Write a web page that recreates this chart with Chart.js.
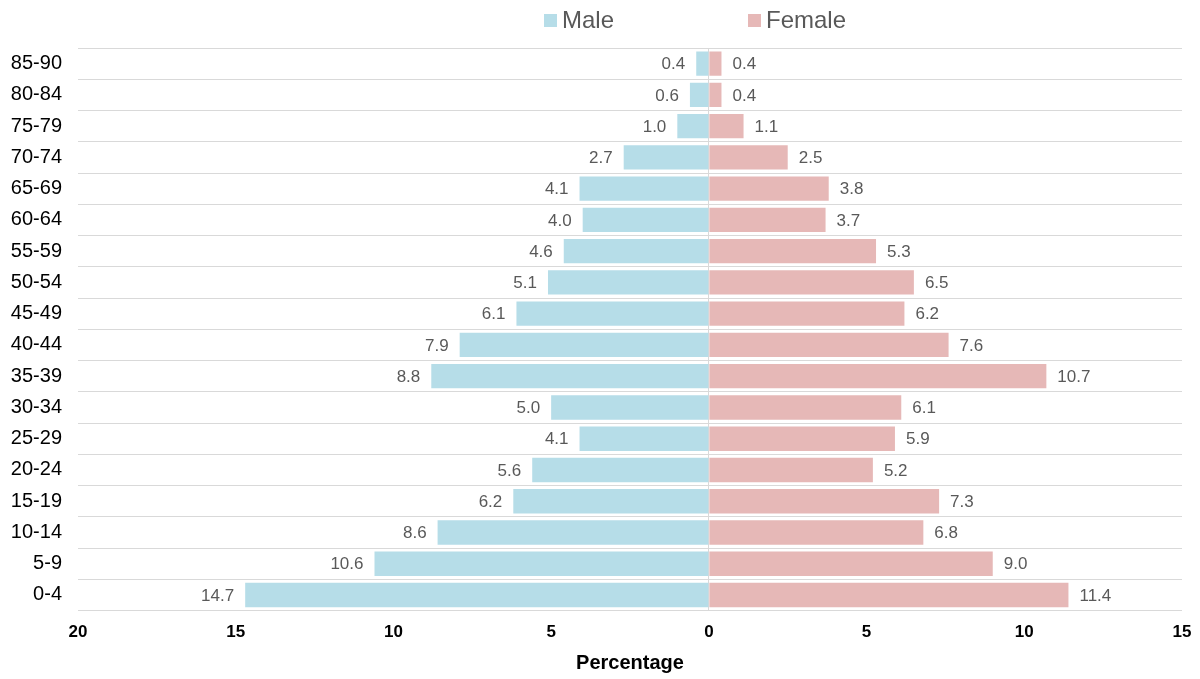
<!DOCTYPE html>
<html>
<head>
<meta charset="utf-8">
<script src="https://cdn.jsdelivr.net/npm/chart.js@4/dist/chart.umd.min.js"></script>
<style>
  body { margin: 0; background: #fff; }
  #wrap { width: 1200px; height: 679px; position: relative; }
</style>
</head>
<body>
<div id="wrap"><canvas id="myChart"></canvas></div>
<script>
// ********** DATA ***********
let ageGroups = ['85-90', '80-84', '75-79', '70-74', '65-69', '60-64', '55-59', '50-54', '45-49',
  '40-44', '35-39', '30-34', '25-29', '20-24', '15-19', '10-14', '5-9', '0-4'];
let maleValues = [0.4, 0.6, 1.0, 2.7, 4.1, 4.0, 4.6, 5.1, 6.1, 7.9, 8.8, 5.0, 4.1, 5.6, 6.2, 8.6, 10.6, 14.7];
let femaleValues = [0.4, 0.4, 1.1, 2.5, 3.8, 3.7, 5.3, 6.5, 6.2, 7.6, 10.7, 6.1, 5.9, 5.2, 7.3, 6.8, 9.0, 11.4];
let xTicks = [-20, -15, -10, -5, 0, 5, 10, 15];

let maleColor = '#b6dde8';
let femaleColor = '#e6b8b7';
let fontName = '"Liberation Sans", Arial, sans-serif';

// ********** PLUGINS ***********
// value labels at the end of each bar
let barLabels = {
  id: 'barLabels',
  afterDatasetsDraw(chart) {
    let ctx = chart.ctx;
    ctx.save();
    ctx.font = '17px ' + fontName;
    ctx.fillStyle = '#595959';
    ctx.textBaseline = 'middle';
    chart.data.datasets.forEach((ds, i) => {
      chart.getDatasetMeta(i).data.forEach((bar, j) => {
        let v = ds.data[j];
        let txt = Math.abs(v).toFixed(1);
        if (v < 0) {
          ctx.textAlign = 'right';
          ctx.fillText(txt, bar.x - 11, bar.y + 1);
        } else {
          ctx.textAlign = 'left';
          ctx.fillText(txt, bar.x + 11, bar.y + 1);
        }
      });
    });
    ctx.restore();
  }
};

// legend spread out on top like the original
let topLegend = {
  id: 'topLegend',
  afterDraw(chart) {
    let ctx = chart.ctx;
    let items = [
      { text: 'Male', color: maleColor, x: 544 },
      { text: 'Female', color: femaleColor, x: 748 }
    ];
    ctx.save();
    ctx.font = '24px ' + fontName;
    ctx.textBaseline = 'middle';
    ctx.textAlign = 'left';
    items.forEach(it => {
      ctx.fillStyle = it.color;
      ctx.fillRect(it.x, 14, 13, 13);
      ctx.fillStyle = '#595959';
      ctx.fillText(it.text, it.x + 18, 21);
    });
    ctx.restore();
  }
};

// ********** CHART ***********
const ctx = document.getElementById('myChart').getContext('2d');
const myChart = new Chart(ctx, {
  type: 'bar',
  data: {
    labels: ageGroups,
    datasets: [
      {
        label: 'Male',
        data: maleValues.map(v => -v),
        backgroundColor: maleColor,
        barPercentage: 0.78,
        categoryPercentage: 1
      },
      {
        label: 'Female',
        data: femaleValues,
        backgroundColor: femaleColor,
        barPercentage: 0.78,
        categoryPercentage: 1
      }
    ]
  },
  options: {
    indexAxis: 'y',
    responsive: true,
    maintainAspectRatio: false,
    animation: false,
    layout: { padding: { top: 48, right: 18, left: 8, bottom: 8 } },
    plugins: {
      legend: { display: false },
      tooltip: { enabled: false }
    },
    scales: {
      x: {
        stacked: true,
        min: xTicks[0],
        max: xTicks[xTicks.length - 1],
        afterBuildTicks(axis) {
          axis.ticks = xTicks.map(v => ({ value: v }));
        },
        afterFit(axis) {
          axis.paddingRight = 0;
          axis.paddingLeft = 0;
        },
        border: { display: false },
        grid: {
          drawTicks: false,
          color: c => (c.tick && c.tick.value === 0 ? '#d9d9d9' : 'rgba(0,0,0,0)')
        },
        ticks: {
          padding: 12,
          color: '#000',
          font: { family: fontName, size: 17, weight: 'bold' },
          callback: v => Math.abs(v)
        },
        title: {
          display: true,
          text: 'Percentage',
          color: '#000',
          font: { family: fontName, size: 20, weight: 'bold', lineHeight: 0.8 },
          padding: { top: 0, bottom: 0 }
        }
      },
      y: {
        stacked: true,
        border: { display: false },
        grid: { color: '#d9d9d9', drawTicks: false, offset: true },
        afterFit(axis) {
          axis.width = 70;
        },
        ticks: {
          padding: 16,
          color: '#000',
          font: { family: fontName, size: 20 }
        }
      }
    }
  },
  plugins: [barLabels, topLegend]
});
</script>
</body>
</html>
